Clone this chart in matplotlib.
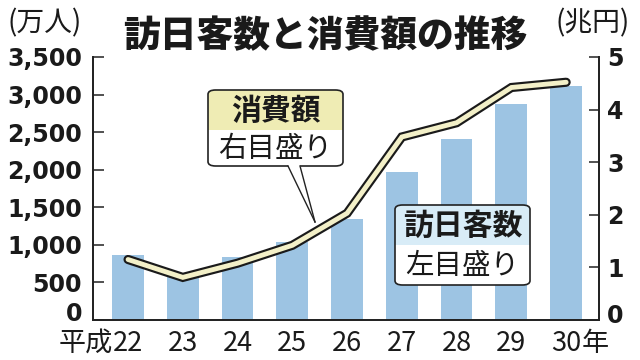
import matplotlib
matplotlib.use("Agg")
import matplotlib.pyplot as plt
from matplotlib.patches import FancyBboxPatch, Rectangle, Polygon
from matplotlib.lines import Line2D
from matplotlib.ticker import FuncFormatter

plt.rcParams['font.family'] = ['Noto Sans CJK JP', 'DejaVu Sans']

years = ["22", "23", "24", "25", "26", "27", "28", "29", "30"]
visitors = [861, 622, 836, 1036, 1341, 1974, 2404, 2869, 3119]   # 万人
spending = [1.15, 0.81, 1.08, 1.42, 2.03, 3.48, 3.75, 4.42, 4.52]  # 兆円
left_ticks = [0, 500, 1000, 1500, 2000, 2500, 3000, 3500]
right_ticks = [0, 1, 2, 3, 4, 5]

W, H = 640, 360
fig = plt.figure(figsize=(6.4, 3.6), dpi=100)
fig.patch.set_facecolor("white")

def fx(px):
    return px / W

def fy(py):
    return 1 - py / H

ax = fig.add_axes([fx(93), 40 / H, (599 - 93) / W, (320 - 57) / H])
ax2 = ax.twinx()

xs = list(range(len(years)))
ax.bar(xs, visitors, width=0.58, color="#9dc4e3", zorder=2)
ax.set_xlim(-0.64, len(years) - 1 + 0.6)
ax.set_ylim(0, 3500)
ax2.set_ylim(0, 5)

ax2.plot(xs, spending, color="#1a1a1a", lw=6.6, solid_capstyle="round",
         solid_joinstyle="miter", zorder=3)
ax2.plot(xs, spending, color="#f3f0c8", lw=3.5, solid_capstyle="round",
         solid_joinstyle="miter", zorder=4)

spine_col = "#222222"
for a in (ax, ax2):
    a.spines["top"].set_visible(False)
    for s in ("left", "right", "bottom"):
        a.spines[s].set_color(spine_col)
        a.spines[s].set_linewidth(1.3)

tick_font = dict(family="DejaVu Sans", weight="bold", size=17, color="#1a1a1a")

# zero labels are drawn separately (slightly raised, as in the reference)
ax.set_yticks(left_ticks)
ax.yaxis.set_major_formatter(FuncFormatter(lambda v, p: "" if v == 0 else f"{int(v):,}"))
ax.tick_params(axis="y", direction="in", length=8, width=1.1, color=spine_col, pad=8)
for lab in ax.get_yticklabels():
    lab.set_fontfamily("DejaVu Sans")
    lab.set_fontweight("bold")
    lab.set_fontsize(17)
    lab.set_color("#1a1a1a")

ax2.set_yticks(right_ticks)
ax2.yaxis.set_major_formatter(FuncFormatter(lambda v, p: "" if v == 0 else f"{int(v)}"))
ax2.tick_params(axis="y", direction="in", length=7, width=1.1, color=spine_col, pad=6)
for lab in ax2.get_yticklabels():
    lab.set_fontfamily("DejaVu Sans")
    lab.set_fontweight("bold")
    lab.set_fontsize(17)
    lab.set_color("#1a1a1a")

ax.annotate(f"{left_ticks[0]}", xy=(0, 0), xycoords="axes fraction", xytext=(-8, 4),
            textcoords="offset points", ha="right", va="center", fontfamily="DejaVu Sans",
            fontweight="bold", fontsize=17, color="#1a1a1a")
ax2.annotate(f"{right_ticks[0]}", xy=(1, 0), xycoords="axes fraction", xytext=(6, 3),
             textcoords="offset points", ha="left", va="center", fontfamily="DejaVu Sans",
             fontweight="bold", fontsize=17, color="#1a1a1a")

ax.set_xticks(xs)
ax.set_xticklabels(years, fontsize=19.5, color="#1a1a1a")
ax.tick_params(axis="x", length=0, pad=7)

# prefix / suffix on x labels
ax.annotate("平成", xy=(0, 0), xycoords=ax.get_xaxis_transform(),
            xytext=(-11, -7), textcoords="offset points", ha="right", va="top",
            fontsize=19.5, color="#1a1a1a")
ax.annotate("年", xy=(len(years) - 1, 0), xycoords=ax.get_xaxis_transform(),
            xytext=(11, -7), textcoords="offset points", ha="left", va="top",
            fontsize=19.5, color="#1a1a1a")

# title and units
fig.text(fx(325), fy(36), "訪日客数と消費額の推移", ha="center", va="center",
         fontsize=26.5, fontweight="heavy", color="#1a1a1a")
fig.text(fx(8), fy(23), "(万人)", ha="left", va="center", fontsize=20, color="#1a1a1a")
fig.text(fx(630), fy(23), "(兆円)", ha="right", va="center", fontsize=20, color="#1a1a1a")


def label_box(x0, y0, x1, y1, ymid, top_color, top_text, bot_text, pointer=None):
    tr = fig.transFigure
    bx = FancyBboxPatch((fx(x0), fy(y1)), fx(x1) - fx(x0), fy(y0) - fy(y1),
                        boxstyle="round,pad=0,rounding_size=0.012",
                        transform=tr, facecolor="white", edgecolor="none", zorder=10)
    fig.add_artist(bx)
    top = Rectangle((fx(x0), fy(ymid)), fx(x1) - fx(x0), fy(y0) - fy(ymid),
                    transform=tr, facecolor=top_color, edgecolor="none", zorder=11)
    fig.add_artist(top)
    top.set_clip_path(bx)
    border = FancyBboxPatch((fx(x0), fy(y1)), fx(x1) - fx(x0), fy(y0) - fy(y1),
                            boxstyle="round,pad=0,rounding_size=0.012",
                            transform=tr, facecolor="none", edgecolor="#222222",
                            lw=1.2, zorder=12)
    fig.add_artist(border)
    if pointer is not None:
        (pa, pb, tip) = pointer
        poly = Polygon([(fx(pa), fy(y1 - 1)), (fx(pb), fy(y1 - 1)), (fx(tip[0]), fy(tip[1]))],
                       closed=True, transform=tr, facecolor="white", edgecolor="none",
                       zorder=13)
        fig.add_artist(poly)
        for p in (pa, pb):
            fig.add_artist(Line2D([fx(p), fx(tip[0])], [fy(y1), fy(tip[1])],
                                  transform=tr, color="#222222", lw=1.0, zorder=14))
    fig.text(fx((x0 + x1) / 2), fy((y0 + ymid) / 2 + 1), top_text, ha="center", va="center",
             fontsize=21.5, fontweight="bold", color="#1a1a1a", zorder=15)
    fig.text(fx((x0 + x1) / 2), fy((ymid + y1) / 2 + 1), bot_text, ha="center", va="center",
             fontsize=20.5, color="#1a1a1a", zorder=15)


label_box(208, 90, 343, 166, 130, "#efecb4", "消費額", "右目盛り",
          pointer=(288, 300, (315, 222)))
label_box(395, 205, 530, 285, 245, "#d8ecf7", "訪日客数", "左目盛り")

fig.savefig("out.png", dpi=100)
